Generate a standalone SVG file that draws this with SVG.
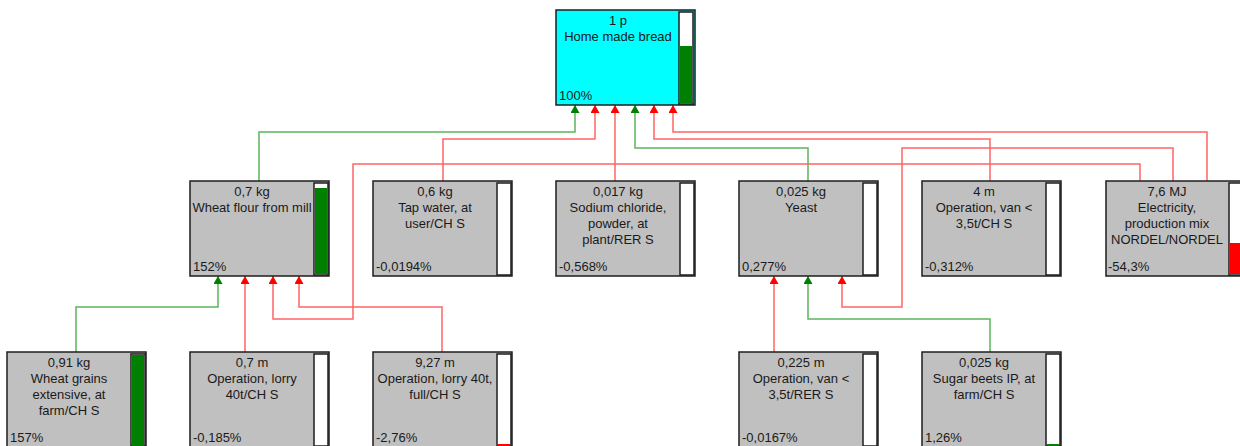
<svg xmlns="http://www.w3.org/2000/svg" width="1240" height="446" viewBox="0 0 1240 446">
<style>
.box{fill:#c0c0c0;stroke:#1e1e1e;stroke-width:1.5}
.root{fill:#00ffff;stroke:#1e1e1e;stroke-width:1.5}
.bar{fill:#ffffff;stroke:#1e1e1e;stroke-width:1.5}
.g{fill:#008000}
.r{fill:#ff0000}
text{font-family:"Liberation Sans",Arial,sans-serif;font-size:13px;fill:#1a1a1a}
.c{text-anchor:middle}
.lr{fill:none;stroke:#ff6464;stroke-width:1.5;marker-end:url(#ar)}
.lg{fill:none;stroke:#5cb45c;stroke-width:1.5;marker-end:url(#ag)}
</style>
<defs>
<marker id="ar" markerUnits="userSpaceOnUse" markerWidth="8" markerHeight="9" refX="8" refY="4.5" viewBox="0 0 8 9" orient="auto"><path d="M0,0 L8,4.5 L0,9 Z" fill="#ff0000"/></marker>
<marker id="ag" markerUnits="userSpaceOnUse" markerWidth="8" markerHeight="9" refX="8" refY="4.5" viewBox="0 0 8 9" orient="auto"><path d="M0,0 L8,4.5 L0,9 Z" fill="#008000"/></marker>
</defs>

<g id="connectors">
<path class="lg" d="M259,181 V132 H575 V105"/>
<path class="lr" d="M443,181 V139 H595 V105"/>
<path class="lr" d="M615,181 V105"/>
<path class="lg" d="M808,181 V148 H635 V105"/>
<path class="lr" d="M990,181 V139 H654 V105"/>
<path class="lr" d="M1207,181 V132 H673 V105"/>
<path class="lr" d="M1140,181 V164 H353 V319 H273 V276"/>
<path class="lr" d="M1173,181 V148 H902 V307 H842 V276"/>
<path class="lg" d="M76,352 V307 H218 V276"/>
<path class="lr" d="M245,352 V276"/>
<path class="lr" d="M442,352 V307 H299 V276"/>
<path class="lr" d="M774,352 V276"/>
<path class="lg" d="M990,352 V319 H808 V276"/>
</g>

<g id="n-bread">
<rect class="root" x="556" y="10" width="139" height="95"/>
<rect class="bar" x="679" y="12" width="14" height="92"/>
<rect class="g" x="680" y="46" width="12" height="57"/>
<text class="c" x="618" y="25">1 p</text>
<text class="c" x="618" y="41">Home made bread</text>
<text x="559" y="100">100%</text>
</g>

<g id="n-flour">
<rect class="box" x="190" y="181" width="139" height="95"/>
<rect class="bar" x="314" y="183" width="14" height="92"/>
<rect class="g" x="315" y="188" width="12" height="86"/>
<text class="c" x="252" y="196">0,7 kg</text>
<text class="c" x="252" y="212">Wheat flour from mill</text>
<text x="193" y="271">152%</text>
</g>

<g id="n-water">
<rect class="box" x="373" y="181" width="139" height="95"/>
<rect class="bar" x="497" y="183" width="14" height="92"/>
<text class="c" x="435" y="196">0,6 kg</text>
<text class="c" x="435" y="212">Tap water, at</text>
<text class="c" x="435" y="228">user/CH S</text>
<text x="376" y="271">-0,0194%</text>
</g>

<g id="n-salt">
<rect class="box" x="556" y="181" width="139" height="95"/>
<rect class="bar" x="680" y="183" width="14" height="92"/>
<text class="c" x="618" y="196">0,017 kg</text>
<text class="c" x="618" y="212">Sodium chloride,</text>
<text class="c" x="618" y="228">powder, at</text>
<text class="c" x="618" y="244">plant/RER S</text>
<text x="559" y="271">-0,568%</text>
</g>

<g id="n-yeast">
<rect class="box" x="739" y="181" width="139" height="95"/>
<rect class="bar" x="863" y="183" width="14" height="92"/>
<text class="c" x="801" y="196">0,025 kg</text>
<text class="c" x="801" y="212">Yeast</text>
<text x="742" y="271">0,277%</text>
</g>

<g id="n-van-ch">
<rect class="box" x="922" y="181" width="139" height="95"/>
<rect class="bar" x="1046" y="183" width="14" height="92"/>
<text class="c" x="984" y="196">4 m</text>
<text class="c" x="984" y="212">Operation, van &lt;</text>
<text class="c" x="984" y="228">3,5t/CH S</text>
<text x="925" y="271">-0,312%</text>
</g>

<g id="n-elec">
<rect class="box" x="1106" y="181" width="139" height="95"/>
<rect class="bar" x="1229" y="183" width="14" height="92"/>
<rect class="r" x="1230" y="243" width="12" height="31"/>
<text class="c" x="1167" y="196">7,6 MJ</text>
<text class="c" x="1167" y="212">Electricity,</text>
<text class="c" x="1167" y="228">production mix</text>
<text class="c" x="1167" y="244">NORDEL/NORDEL</text>
<text x="1108" y="271">-54,3%</text>
</g>

<g id="n-grains">
<rect class="box" x="7" y="352" width="139" height="95"/>
<rect class="bar" x="131" y="354" width="14" height="92"/>
<rect class="g" x="132" y="355" width="12" height="91"/>
<text class="c" x="69" y="367">0,91 kg</text>
<text class="c" x="69" y="383">Wheat grains</text>
<text class="c" x="69" y="399">extensive, at</text>
<text class="c" x="69" y="415">farm/CH S</text>
<text x="10" y="442">157%</text>
</g>

<g id="n-lorry">
<rect class="box" x="190" y="352" width="139" height="95"/>
<rect class="bar" x="314" y="354" width="14" height="92"/>
<text class="c" x="252" y="367">0,7 m</text>
<text class="c" x="252" y="383">Operation, lorry</text>
<text class="c" x="252" y="399">40t/CH S</text>
<text x="193" y="442">-0,185%</text>
</g>

<g id="n-lorry40">
<rect class="box" x="373" y="352" width="139" height="95"/>
<rect class="bar" x="497" y="354" width="14" height="92"/>
<rect class="r" x="498" y="444" width="12" height="2"/>
<text class="c" x="435" y="367">9,27 m</text>
<text class="c" x="435" y="383">Operation, lorry 40t,</text>
<text class="c" x="435" y="399">full/CH S</text>
<text x="376" y="442">-2,76%</text>
</g>

<g id="n-van-rer">
<rect class="box" x="739" y="352" width="139" height="95"/>
<rect class="bar" x="863" y="354" width="14" height="92"/>
<text class="c" x="801" y="367">0,225 m</text>
<text class="c" x="801" y="383">Operation, van &lt;</text>
<text class="c" x="801" y="399">3,5t/RER S</text>
<text x="742" y="442">-0,0167%</text>
</g>

<g id="n-beets">
<rect class="box" x="922" y="352" width="139" height="95"/>
<rect class="bar" x="1046" y="354" width="14" height="92"/>
<rect class="g" x="1047" y="444" width="12" height="2"/>
<text class="c" x="984" y="367">0,025 kg</text>
<text class="c" x="984" y="383">Sugar beets IP, at</text>
<text class="c" x="984" y="399">farm/CH S</text>
<text x="925" y="442">1,26%</text>
</g>
</svg>
